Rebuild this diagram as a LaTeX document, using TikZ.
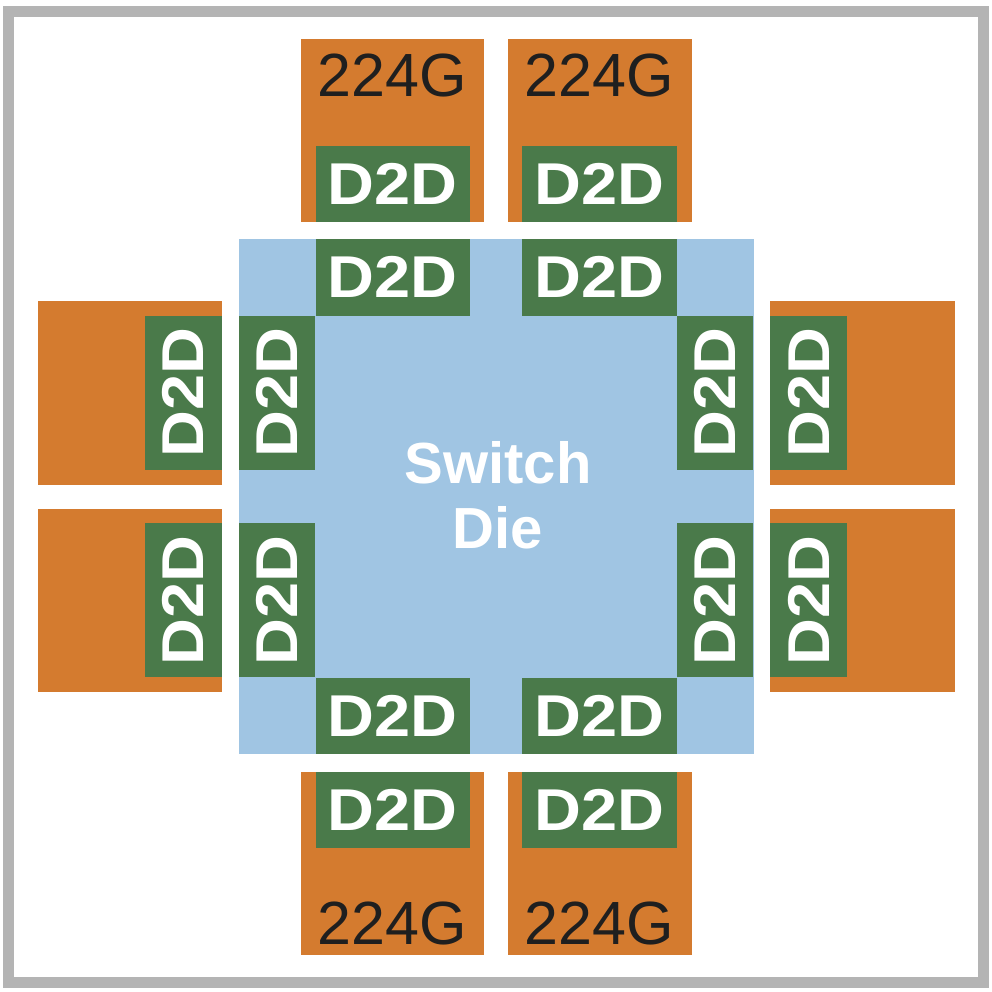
\documentclass[tikz,border=0pt]{standalone}
\usepackage{fontspec}
\usepackage{graphicx}
\setmainfont{Liberation Sans}
\definecolor{orng}{HTML}{D47B2F}
\definecolor{grn}{HTML}{4A7A4A}
\definecolor{blu}{HTML}{A0C5E3}
\definecolor{frame}{HTML}{B4B4B4}
\definecolor{ink}{HTML}{1F1F1F}
\newcommand{\dtd}{\scalebox{1.1}[1]{D2D}}
\tikzset{
  orangebox/.style={fill=orng,draw=none},
  diebox/.style={fill=blu,draw=none},
  greenbox/.style={fill=grn,draw=none},
  dtext/.style={text=white,font=\bfseries\fontsize{59}{60}\selectfont,inner sep=0pt},
  gtext/.style={text=ink,font=\fontsize{61}{64}\selectfont,inner sep=0pt},
  stext/.style={text=white,font=\bfseries\fontsize{58}{60}\selectfont,inner sep=0pt,anchor=base},
}
\begin{document}
\begin{tikzpicture}[x=1pt,y=-1pt]
\useasboundingbox (0,0) rectangle (992,991);
\fill[white] (0,0) rectangle (992,991);
\draw[frame,line width=11pt] (8.5,11.5) rectangle (983.5,982.5);
% orange chiplets
\fill[orangebox] (300.7,39) rectangle (484.3,222.3);
\fill[orangebox] (507.7,39) rectangle (691.7,222.3);
\fill[orangebox] (300.7,771.7) rectangle (484.3,955);
\fill[orangebox] (507.7,771.7) rectangle (691.7,955);
\fill[orangebox] (38,301.3) rectangle (221.7,485);
\fill[orangebox] (38,508.7) rectangle (221.7,692.3);
\fill[orangebox] (770.3,301.3) rectangle (954.7,485);
\fill[orangebox] (770.3,508.7) rectangle (954.7,692.3);
% switch die
\fill[diebox] (239,239) rectangle (753.5,754.3);
% green D2D blocks
\foreach \xa/\ya/\xb/\yb in {
  315.7/145.7/470/222.3, 522.3/145.7/677.3/222.3,
  315.7/239/470/315.7, 522.3/239/677.3/315.7,
  315.7/677.7/470/754.3, 522.3/677.7/677.3/754.3,
  315.7/771.7/470/847.7, 522.3/771.7/677.3/847.7}{
  \fill[greenbox] (\xa,\ya) rectangle (\xb,\yb);
  \node[dtext] at ({(\xa+\xb)/2},{(\ya+\yb)/2}) {\dtd};
}
\foreach \xa/\ya/\xb/\yb in {
  145/315.7/221.7/470, 145/523.3/221.7/677.3,
  239/315.7/315.3/470, 239/523.3/315.3/677.3,
  676.7/315.7/753.3/470, 676.7/523.3/753.3/677.3,
  770.3/315.7/847.3/470, 770.3/523.3/847.3/677.3}{
  \fill[greenbox] (\xa,\ya) rectangle (\xb,\yb);
  \node[dtext,rotate=90] at ({(\xa+\xb)/2},{(\ya+\yb)/2}) {\dtd};
}
% 224G labels
\node[gtext] (g1) at (392.5,75.5) {224G};
\node[gtext] (g2) at (599.5,75.5) {224G};
\node[gtext] (g3) at (392.5,923.7) {224G};
\node[gtext] (g4) at (599.5,923.7) {224G};
% die label
\node[stext] (sw) at (498,483.3) {Switch};
\node[stext] (die) at (498,548.3) {Die};
\end{tikzpicture}
\end{document}
